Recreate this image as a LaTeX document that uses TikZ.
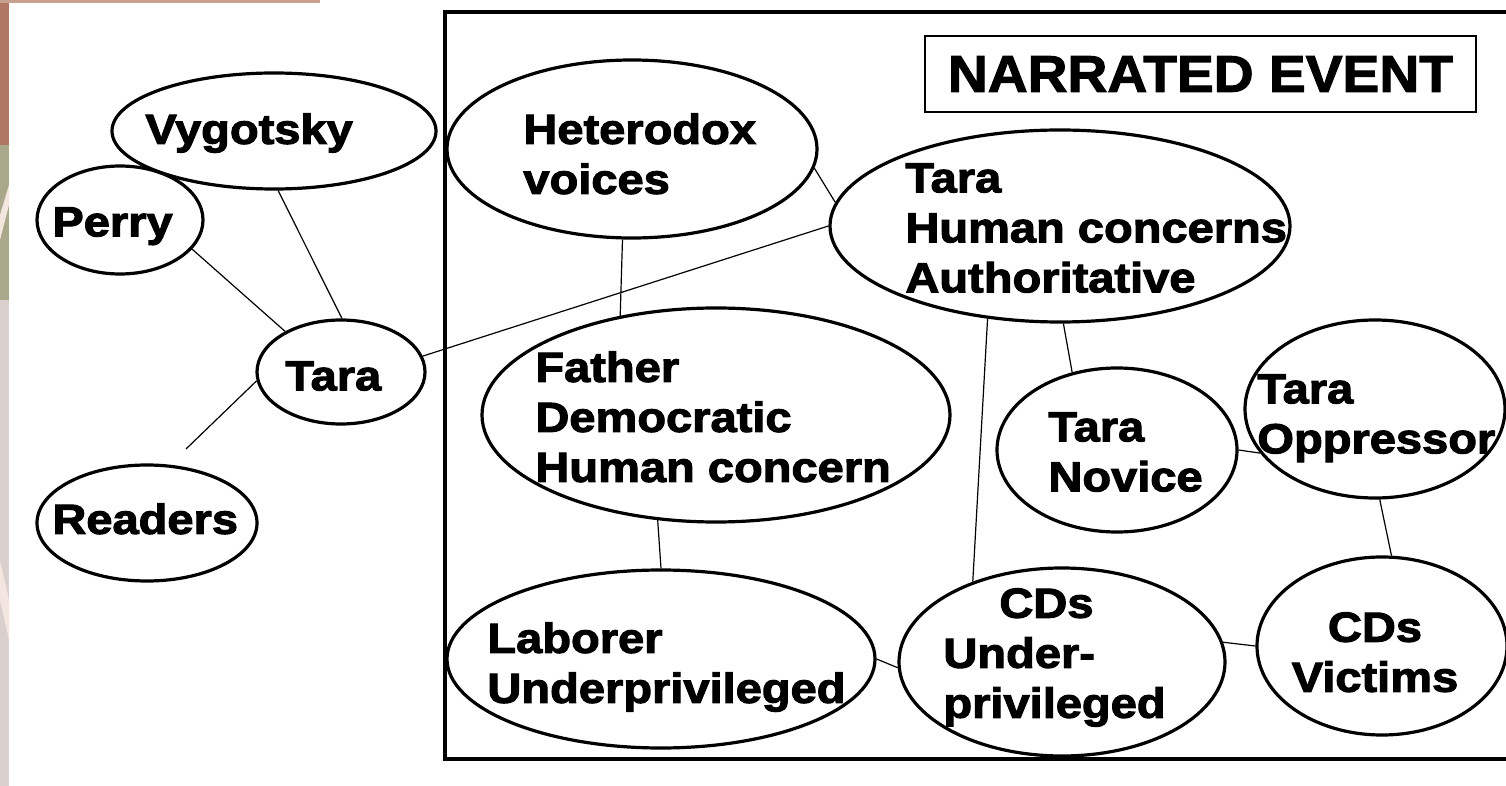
\documentclass[tikz,border=0pt]{standalone}
\usepackage{fontspec}
\setmainfont{Liberation Sans}
\newfontfamily\heavy[FakeStretch=1.12,FakeBold=2.6]{Liberation Sans}
\newfontfamily\titlefont[FakeStretch=1.07,FakeBold=2.0]{Liberation Sans}
\usetikzlibrary{shapes.geometric}
\definecolor{stripA}{HTML}{B07862}
\definecolor{stripB}{HTML}{A9A88A}
\definecolor{stripC}{HTML}{D9CFCC}
\definecolor{stripD}{HTML}{F3E6E0}
\begin{document}
\begin{tikzpicture}[x=0.5pt,y=-0.5pt,
  oval/.style={draw,ellipse,line width=1.6pt,inner sep=0pt},
  lbl/.style={anchor=north west,inner sep=0pt,align=left,font=\heavy\bfseries\fontsize{21}{25}\selectfont},
  link/.style={line width=0.6pt}]
\useasboundingbox (0,0) rectangle (1506,786);
\clip (0,0) rectangle (1506,786);
\fill[white] (0,0) rectangle (1506,786);
% decorative slide background on the left
\fill[stripA] (0,0) rectangle (9,145);
\fill[stripB] (0,145) rectangle (9,300);
\fill[stripC] (0,300) rectangle (9,786);
\fill[stripD] (0,215) -- (9,185) -- (9,205) -- (0,240) -- cycle;
\fill[stripD] (0,560) -- (9,600) -- (9,640) -- (0,600) -- cycle;
\fill[stripA!70!white] (0,0) rectangle (320,3);
% frames
\draw[line width=1.8pt] (445,12) rectangle (1520,759);
\node[draw,line width=0.75pt,minimum width=275.5pt,minimum height=38pt,inner sep=0pt,
      font=\titlefont\bfseries\fontsize{25.8}{28}\selectfont] (title) at (1200.5,74) {NARRATED EVENT};
% ellipses
\node[oval,minimum width=162pt,minimum height=58pt] (vyg) at (274,131) {};
\node[oval,minimum width=83pt,minimum height=54pt] (perry) at (120,220) {};
\node[oval,minimum width=84pt,minimum height=52pt] (tara) at (341,372) {};
\node[oval,minimum width=110pt,minimum height=58pt] (readers) at (147,523) {};
\node[oval,minimum width=185pt,minimum height=89pt] (het) at (632,149) {};
\node[oval,minimum width=230pt,minimum height=96pt] (th) at (1060,226) {};
\node[oval,minimum width=234pt,minimum height=107pt] (father) at (716,415) {};
\node[oval,minimum width=120pt,minimum height=82pt] (novice) at (1117,450) {};
\node[oval,minimum width=130pt,minimum height=89pt] (opp) at (1375,409) {};
\node[oval,minimum width=214pt,minimum height=89pt] (lab) at (661,659) {};
\node[oval,minimum width=163pt,minimum height=94pt] (cds) at (1062,662) {};
\node[oval,minimum width=125pt,minimum height=89pt] (vic) at (1382,646) {};
% texts
\node[lbl] (vygt) at (145,113) {Vygotsky};
\node[lbl] (perryt) at (52,207) {Perry};
\node[lbl] (tarat) at (285,361) {Tara};
\node[lbl] (readt) at (52,503) {Readers};
\node[lbl] (hett) at (523,113) {Heterodox\\voices};
\node[lbl] (tht) at (905,163) {Tara\\Human concerns\\Authoritative};
\node[lbl] (fathert) at (535,351) {Father\\Democratic\\Human concern};
\node[lbl] (novt) at (1048,412) {Tara\\Novice};
\node[lbl] (oppt) at (1257,374) {Tara\\Oppressor};
\node[lbl] (labt) at (487,622) {Laborer\\Underprivileged};
\node[lbl] (cdst) at (943,588) {\hspace{28pt}CDs\\Under-\\privileged};
\node[lbl,anchor=north,align=center] (vict) at (1375,612) {CDs\\Victims};
% connectors
\coordinate (rd) at (186,449);
\draw[link] (vyg.-86) -- (tara.89);
\draw[link] (perry.-22) -- (tara.144);
\draw[link] (rd) -- (tara.186);
\draw[link] (tara.11) -- (th.180);
\draw[link] (het.-6) -- (th.174);
\draw[link] (het.-96) -- (father.134);
\draw[link] (th.-128) -- (cds.138);
\draw[link] (th.-88) -- (novice.120);
\draw[link] (novice.0) -- (opp.-159);
\draw[link] (opp.-87) -- (vic.84);
\draw[link] (father.-119) -- (lab.90);
\draw[link] (lab.0) -- (cds.182);
\draw[link] (cds.7) -- (vic.180);
\end{tikzpicture}
\end{document}
